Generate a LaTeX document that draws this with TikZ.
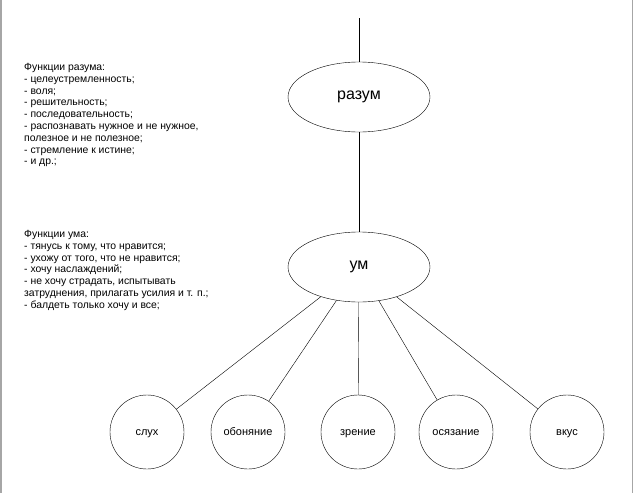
\documentclass[tikz,border=0pt]{standalone}
\usepackage{fontspec}
\setmainfont{Liberation Sans}
\begin{document}
\begin{tikzpicture}[x=1pt,y=-1pt,
  ell/.style={draw,ellipse,minimum width=142pt,minimum height=70pt,inner sep=0pt,font=\fontsize{16}{18}\selectfont},
  sense/.style={draw,circle,minimum size=74pt,inner sep=0pt,text height=8pt,text depth=2pt,font=\fontsize{11}{12}\selectfont},
  info/.style={anchor=north west,align=left,inner sep=0pt,font=\fontsize{10.4}{11.8}\selectfont}]
\usetikzlibrary{shapes.geometric}
\path[use as bounding box] (0,0) rectangle (633,493);
\draw[gray!70,line width=1.5pt] (0.75,0) -- (0.75,493);
\draw[gray!70,line width=1pt] (632.5,0) -- (632.5,493);
\node[ell] (razum) at (359,97) {разум};
\node[ell] (um) at (359,267) {ум};
\coordinate (top) at (359,18);
\draw (top) -- (razum);
\draw (razum) -- (um);
\foreach \n/\x/\t in {s1/147/слух,s2/248/обоняние,s3/358/зрение,s4/456/осязание,s5/567/вкус}{
  \node[sense] (\n) at (\x,432) {\t};
  \draw (um) -- (\n);
}
\node[info] (f1) at (24,63) {Функции разума:\\- целеустремленность;\\- воля;\\- решительность;\\- последовательность;\\- распознавать нужное и не нужное,\\полезное и не полезное;\\- стремление к истине;\\- и др.;};
\node[info] (f2) at (24,230) {Функции ума:\\- тянусь к тому, что нравится;\\- ухожу от того, что не нравится;\\- хочу наслаждений;\\- не хочу страдать, испытывать\\затруднения, прилагать усилия и т. п.;\\- балдеть только хочу и все;};
\end{tikzpicture}
\end{document}
